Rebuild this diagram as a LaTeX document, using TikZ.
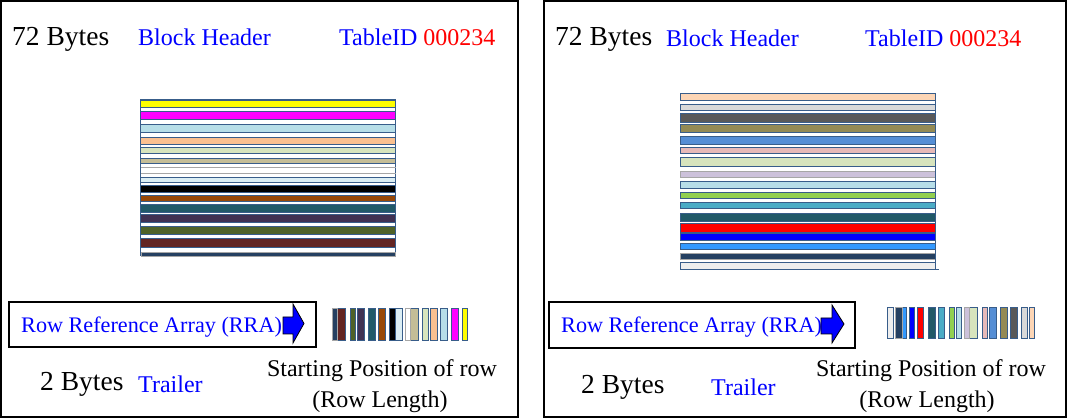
\documentclass[tikz,border=0pt]{standalone}
\usepackage{fontspec}
\setmainfont{Liberation Serif}
\definecolor{edgeblue}{HTML}{385D8A}
\definecolor{greyedge}{HTML}{A6A6A6}
\definecolor{cyellow}{HTML}{FFFF00}
\definecolor{cmagenta}{HTML}{FF00FF}
\definecolor{clblue}{HTML}{B7DEE8}
\definecolor{cpeach}{HTML}{FAC090}
\definecolor{clgreen}{HTML}{D7E4BD}
\definecolor{ctan}{HTML}{C4BD97}
\definecolor{cvlblue}{HTML}{DBEEF4}
\definecolor{cbrown}{HTML}{984807}
\definecolor{cteal}{HTML}{215968}
\definecolor{cpurple}{HTML}{403152}
\definecolor{colive}{HTML}{4F6228}
\definecolor{cmaroon}{HTML}{632523}
\definecolor{cnavy}{HTML}{254061}
\definecolor{clpeach}{HTML}{FCD5B5}
\definecolor{clgrey}{HTML}{D9D9D9}
\definecolor{cdgrey}{HTML}{595959}
\definecolor{ckhaki}{HTML}{948A54}
\definecolor{cmblue}{HTML}{558ED5}
\definecolor{cpink}{HTML}{E6B9B8}
\definecolor{clav}{HTML}{CCC1DA}
\definecolor{cgreen}{HTML}{92D050}
\definecolor{ctblue}{HTML}{4BACC6}
\definecolor{cdodger}{HTML}{3399FF}
\definecolor{cvlgrey}{HTML}{EEEEEE}
\tikzset{
  panel/.style={draw=black, line width=1.3pt},
  stripe/.style={draw=edgeblue, line width=0.9pt},
  gstripe/.style={draw=greyedge, line width=0.9pt},
  bigtxt/.style={inner sep=0pt, font=\fontsize{27.5}{30}\selectfont},
  midtxt/.style={inner sep=0pt, font=\fontsize{24}{28}\selectfont},
  rratxt/.style={inner sep=0pt, font=\fontsize{22.2}{26}\selectfont, text=blue},
  rrabox/.style={draw=black, line width=1.1pt},
  bluearrow/.style={draw=black, fill=blue, line width=0.8pt, line join=miter},
}
\begin{document}
\begin{tikzpicture}[x=1pt,y=-1pt]
\useasboundingbox (0,0) rectangle (1069,419);
% panels
\draw[panel] (1,1) rectangle (518,417);
\draw[panel] (544,1) rectangle (1066,417);

% ---------- left panel ----------
\node[bigtxt, anchor=base west] (lb72) at (12,46) {72 Bytes};
\node[midtxt, anchor=base west, text=blue] (lbh) at (138,46) {Block Header};
\node[midtxt, anchor=base west] (ltid) at (339,46) {\textcolor{blue}{TableID} \textcolor{red}{000234}};

% left stripes stack
\draw[stripe] (140.7,99.3) rectangle (395.7,255);
\foreach \ya/\yb/\c in {100.7/107.3/cyellow, 111.3/119.3/cmagenta, 124/132.3/clblue,
  137.3/144.3/cpeach, 147.3/153.7/clgreen, 158.3/163.3/ctan, 177.3/182.7/cvlblue,
  185/192.3/black, 195.3/201.3/cbrown, 204/212.7/cteal, 214.7/222.3/cpurple,
  226.3/234/colive, 238.3/247.3/cmaroon}
  \draw[stripe, fill=\c] (140.7,\ya) rectangle (395.7,\yb);
\draw[gstripe] (140.7,167.3) -- (395.7,167.3);
\draw[gstripe] (140.7,173) -- (395.7,173);
\draw[gstripe, fill=cnavy] (141.5,252.3) rectangle (395.7,256.3);

% left RRA
\draw[rrabox] (9,302) rectangle (316,347);
\node[rratxt, anchor=base west] (lrra) at (21,332.5) {Row Reference Array (RRA)};
\draw[bluearrow] (283,317) -- (293,317) -- (293,304) -- (304,323.5) -- (293,343) -- (293,334) -- (283,334) -- cycle;

% left small bars
\foreach \xa/\xb/\c in {337.3/345.7/cmaroon, 350/355.3/colive, 357/364.7/cpurple,
  368.3/375.3/cteal, 378.3/385.3/cbrown, 389/395.3/black, 395.3/402.3/cvlblue,
  410.3/418.7/ctan, 422.3/428.7/clgreen, 430.3/437.3/cpeach, 440/447.3/clblue,
  451.3/458/cmagenta, 462.3/467.7/cyellow}
  \draw[stripe, fill=\c] (\xa,308.3) rectangle (\xb,340);
\draw[gstripe, fill=cnavy] (332.3,308.3) rectangle (337.3,340);
\draw[gstripe, fill=white] (405,308.3) rectangle (410.3,340);

\node[bigtxt, anchor=base west] (lb2) at (40,391) {2 Bytes};
\node[midtxt, anchor=base west, text=blue] (ltr) at (138,393) {Trailer};
\node[midtxt, anchor=base] (lsp) at (382,377) {Starting Position of row};
\node[midtxt, anchor=base] (lrl) at (380,408) {(Row Length)};

% ---------- right panel ----------
\node[bigtxt, anchor=base west] (rb72) at (555,46) {72 Bytes};
\node[midtxt, anchor=base west, text=blue] (rbh) at (666,47) {Block Header};
\node[midtxt, anchor=base west] (rtid) at (865,47) {\textcolor{blue}{TableID} \textcolor{red}{000234}};

\foreach \ya/\yb/\c in {93.7/100.3/clpeach, 104.3/110.3/clgrey, 113.3/122.7/cdgrey,
  124.3/132.3/ckhaki, 136.3/144.3/cmblue, 147.3/153/cpink, 157.3/166/clgreen,
  181.3/188.3/clblue, 192.3/198.3/cgreen, 202.3/208.3/ctblue, 213.3/221.7/cteal,
  223.7/232.3/red, 233.3/240.3/blue, 243.3/249.3/cdodger, 262.7/269.3/cvlgrey}
  \draw[stripe, fill=\c] (680.3,\ya) rectangle (935.7,\yb);
\draw[gstripe, fill=clav] (680.3,171.3) rectangle (935.7,177);
\draw[gstripe, fill=cnavy] (680.3,253.7) rectangle (935.7,259.3);
\draw[stripe] (935.7,93.7) -- (935.7,269.3) -- (938.7,269.3);

% right RRA
\draw[rrabox] (549,302) rectangle (855,348);
\node[rratxt, anchor=base west] (rrra) at (561,333) {Row Reference Array (RRA)};
\draw[bluearrow] (821,318) -- (832,318) -- (832,305) -- (844,324) -- (832,343) -- (832,334) -- (821,334) -- cycle;

% right small bars
\foreach \xa/\xb/\c in {887.3/893.7/cvlgrey, 902/906.7/cdodger, 909.3/914.7/blue,
  917/923.7/red, 928.3/935.3/cteal, 938.3/944.3/ctblue, 949/954/cgreen,
  956.3/961.7/clblue, 969.3/977.3/clgreen, 982.3/987.7/cpink, 989.3/996.7/cmblue,
  1000.3/1007.7/ckhaki, 1010.3/1017.7/cdgrey, 1021.3/1027.3/clgrey, 1029/1034.3/clpeach}
  \draw[stripe, fill=\c] (\xa,307.3) rectangle (\xb,338.3);
\draw[gstripe, fill=cnavy] (895,307.3) rectangle (902,338.3);
\draw[gstripe, fill=clav] (964.3,307.3) rectangle (969.3,338.3);

\node[bigtxt, anchor=base west] (rb2) at (581,394) {2 Bytes};
\node[midtxt, anchor=base west, text=blue] (rtr) at (711,396) {Trailer};
\node[midtxt, anchor=base] (rsp) at (931,377) {Starting Position of row};
\node[midtxt, anchor=base] (rrl) at (927,408) {(Row Length)};
\end{tikzpicture}
\end{document}
